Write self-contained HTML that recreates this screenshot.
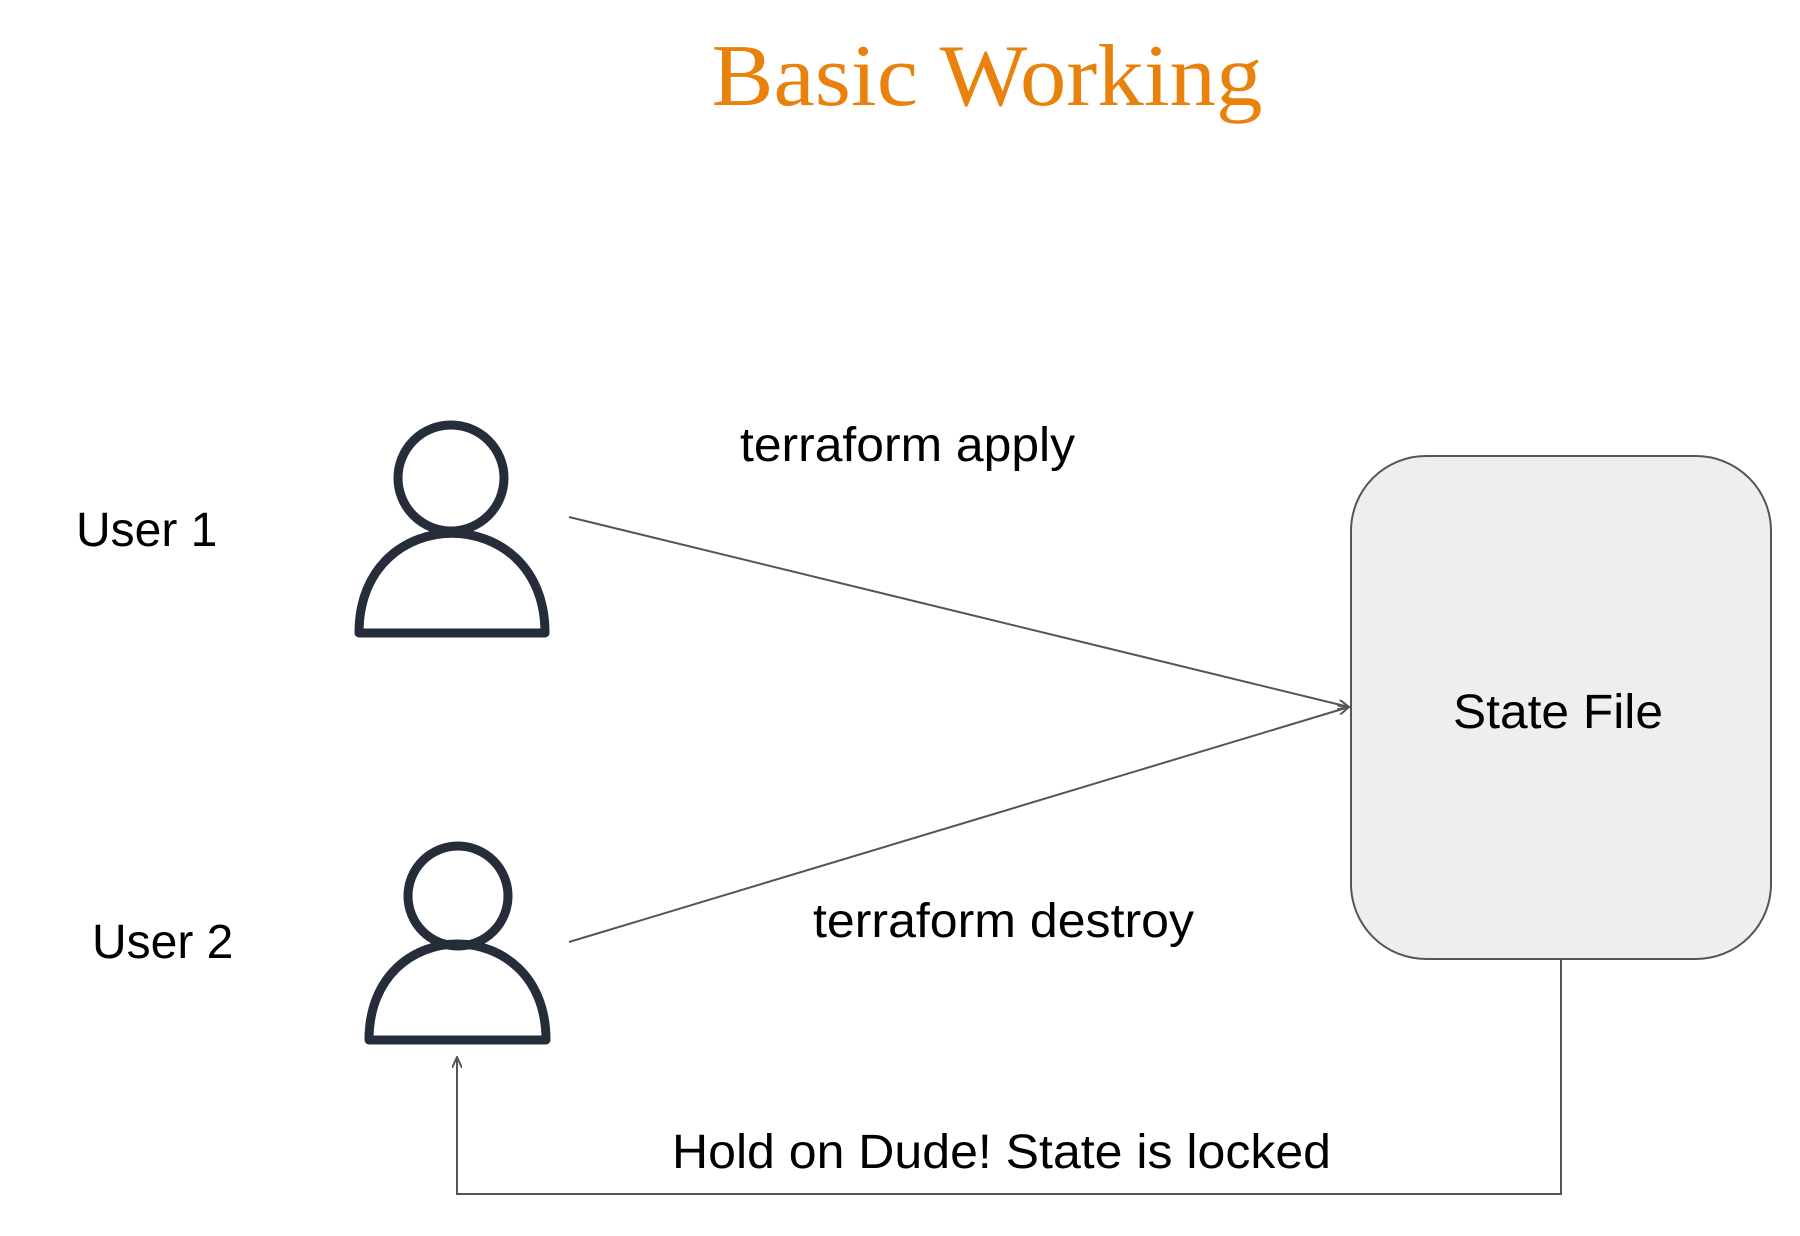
<!DOCTYPE html>
<html><head><meta charset="utf-8"><style>html,body{margin:0;padding:0;background:#fff}svg{display:block}</style></head>
<body>
<svg width="1800" height="1236" viewBox="0 0 1800 1236" xmlns="http://www.w3.org/2000/svg">
<defs>
<marker id="ah" markerWidth="12" markerHeight="10" refX="11" refY="5" orient="auto" markerUnits="userSpaceOnUse">
<path d="M0,0 L11,5 L0,10" fill="none" stroke="#555" stroke-width="2"/>
</marker>
</defs>
<text x="987" y="105" text-anchor="middle" font-family="Liberation Serif, serif" font-size="88" fill="#e8820c" textLength="551" lengthAdjust="spacingAndGlyphs">Basic Working</text>

<rect x="1351" y="456" width="420" height="503" rx="75" ry="75" fill="#eeeeee" stroke="#555" stroke-width="2"/>

<g fill="none" stroke="#252d3b" stroke-width="9" stroke-linejoin="round">
<circle cx="451" cy="478" r="53"/>
<path d="M359,633 C359,500 545,500 545,633 Z"/>
<circle cx="458" cy="896" r="50"/>
<path d="M369,1040 C369,912 546,912 546,1040 Z"/>
</g>

<g font-family="Liberation Sans, sans-serif" font-size="48" fill="#000">
<text x="76" y="546">User 1</text>
<text x="92" y="958">User 2</text>
<text x="740" y="461" textLength="335" lengthAdjust="spacingAndGlyphs">terraform apply</text>
<text x="813" y="937" textLength="381" lengthAdjust="spacingAndGlyphs">terraform destroy</text>
<text x="1453" y="728" textLength="210" lengthAdjust="spacingAndGlyphs">State File</text>
<text x="672" y="1168" textLength="659" lengthAdjust="spacingAndGlyphs">Hold on Dude! State is locked</text>
</g>

<g stroke="#555" stroke-width="2" fill="none">
<line x1="569" y1="517" x2="1349" y2="707" marker-end="url(#ah)"/>
<line x1="569" y1="942" x2="1349" y2="707" marker-end="url(#ah)"/>
<path d="M1561,959 L1561,1194 L457,1194 L457,1057" marker-end="url(#ah)"/>
</g>
</svg>
</body></html>
